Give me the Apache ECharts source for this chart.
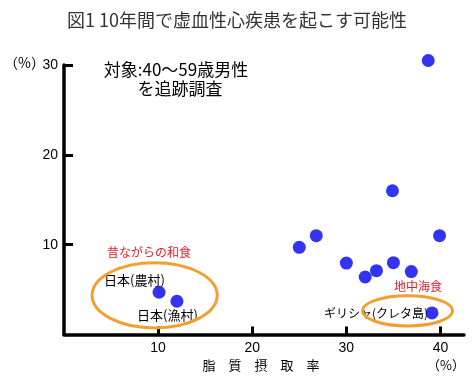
<!DOCTYPE html>
<html>
<head>
<meta charset="utf-8">
<script src="https://cdn.jsdelivr.net/npm/echarts@6/dist/echarts.min.js"></script>
<style>html,body{margin:0;padding:0;background:#fff}#c{width:474px;height:381px}</style>
</head>
<body>
<div id="c"></div>
<script>
// Data: [fat intake %, CHD risk %]
const fatIntake = [10.1, 12.0, 25.0, 26.8, 30.0, 32.0, 33.2, 35.0, 34.9, 36.9, 39.1, 38.7, 39.9];
const chdRisk   = [4.7, 3.7, 9.7, 11.0, 7.95, 6.4, 7.1, 8.0, 16.0, 7.0, 2.4, 30.5, 11.0];
const xTicks = [10, 20, 30, 40];
const yTicks = [10, 20, 30];
// Ellipse annotations in data units: [cx, cy, rx, ry]
const ellipses = [[9.63, 4.36, 6.65, 3.63], [36.5, 2.63, 4.79, 1.68]];

const points = fatIntake.map((x, i) => [x, chdRisk[i]]);
const JP = '"Noto Sans CJK JP", sans-serif';
const NUM = '"Liberation Sans", Arial, sans-serif';

const chart = echarts.init(document.getElementById('c'), null, {renderer: 'canvas'});
chart.setOption({
  animation: false,
  backgroundColor: '#fff',
  title: {
    text: '図1 10年間で虚血性心疾患を起こす可能性',
    left: 'center', top: 6,
    textStyle: {fontFamily: JP, fontSize: 18, fontWeight: 'normal', color: '#333'}
  },
  grid: {left: 64, right: 10, top: 65, bottom: 46.5},
  xAxis: {
    type: 'value', min: 0, max: 42.5, interval: 10,
    splitLine: {show: false},
    axisLine: {lineStyle: {color: '#000', width: 3.5}},
    axisTick: {show: true, inside: true, length: 8, lineStyle: {color: '#000', width: 3}, customValues: xTicks},
    axisLabel: {fontFamily: NUM, fontSize: 14, color: '#000', margin: 7, customValues: xTicks}
  },
  yAxis: {
    type: 'value', min: 0, max: 30, interval: 10,
    splitLine: {show: false},
    axisLine: {show: true, lineStyle: {color: '#000', width: 3.5}},
    axisTick: {show: true, inside: true, length: 9, lineStyle: {color: '#000', width: 3}, customValues: yTicks},
    axisLabel: {fontFamily: NUM, fontSize: 14, color: '#000', margin: 6, customValues: yTicks}
  },
  series: [
    {
      type: 'custom',
      data: ellipses,
      z: 1,
      silent: true,
      clip: false,
      renderItem: function (params, api) {
        const c = api.coord([api.value(0), api.value(1)]);
        const s = api.size([api.value(2), api.value(3)]);
        return {
          type: 'ellipse',
          shape: {cx: c[0], cy: c[1], rx: s[0], ry: s[1]},
          style: {fill: 'none', stroke: '#f0a030', lineWidth: 3}
        };
      }
    },
    {
      type: 'scatter',
      data: points,
      symbol: 'circle',
      symbolSize: 13,
      clip: false,
      z: 3,
      itemStyle: {color: '#0000f0'}
    }
  ],
  graphic: [
    {type: 'text', left: 4, top: 56, style: {text: '（%）', font: '14px ' + JP, fill: '#000'}},
    {type: 'text', x: 176, y: 70, style: {text: '対象:40～59歳男性', font: '17px ' + JP, fill: '#000', align: 'center', verticalAlign: 'middle'}},
    {type: 'text', x: 180, y: 89, style: {text: 'を追跡調査', font: '17px ' + JP, fill: '#000', align: 'center', verticalAlign: 'middle'}},
    {type: 'text', x: 107, y: 252, style: {text: '昔ながらの和食', font: '12px ' + JP, fill: '#e02030', verticalAlign: 'middle'}},
    {type: 'text', x: 104, y: 280, style: {text: '日本(農村)', font: '13px ' + JP, fill: '#000', verticalAlign: 'middle'}},
    {type: 'text', x: 137, y: 315, style: {text: '日本(漁村)', font: '13px ' + JP, fill: '#000', verticalAlign: 'middle'}},
    {type: 'text', x: 394, y: 286, style: {text: '地中海食', font: '12px ' + JP, fill: '#e02030', verticalAlign: 'middle'}},
    {type: 'text', x: 324, y: 313, z: 0, style: {text: 'ギリシャ(クレタ島)', font: '12px ' + JP, fill: '#000', verticalAlign: 'middle'}},
    {type: 'text', x: 261, y: 365, style: {text: '脂　質　摂　取　率', font: '13px ' + JP, fill: '#000', align: 'center', verticalAlign: 'middle'}},
    {type: 'text', x: 446, y: 365, style: {text: '（%）', font: '13px ' + JP, fill: '#000', align: 'center', verticalAlign: 'middle'}}
  ]
});
</script>
</body>
</html>
